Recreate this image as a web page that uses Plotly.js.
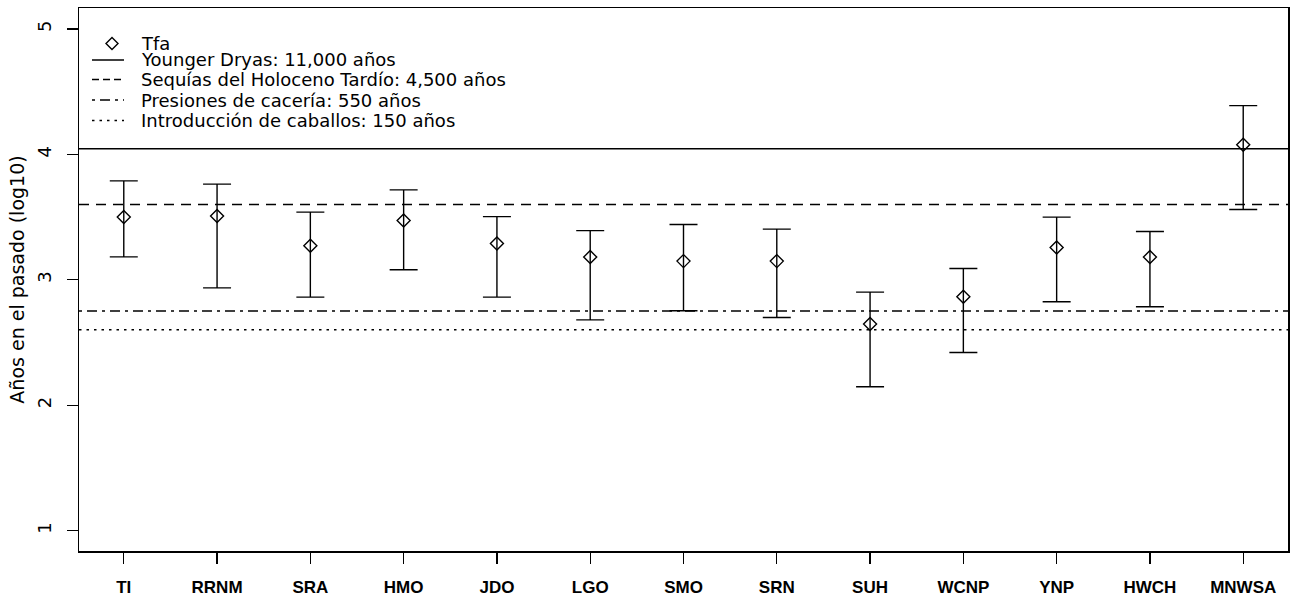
<!DOCTYPE html>
<html>
<head>
<meta charset="utf-8">
<script src="https://cdn.plot.ly/plotly-3.0.1.min.js"></script>
<style>html,body{margin:0;padding:0;background:#fff;}#chart{width:1291px;height:596px;}</style>
</head>
<body>
<div id="chart"></div>
<script>
// Sites (x categories)
const sites = ["TI","RRNM","SRA","HMO","JDO","LGO","SMO","SRN","SUH","WCNP","YNP","HWCH","MNWSA"];
// Tfa estimates (log10 years before present)
const tfa =   [3.500, 3.508, 3.271, 3.473, 3.289, 3.181, 3.149, 3.149, 2.647, 2.865, 3.257, 3.181, 4.076];
// Upper and lower bounds of the intervals
const upper = [3.789, 3.763, 3.540, 3.717, 3.504, 3.392, 3.441, 3.404, 2.902, 3.090, 3.500, 3.385, 4.389];
const lower = [3.183, 2.936, 2.862, 3.080, 2.862, 2.681, 2.753, 2.700, 2.147, 2.421, 2.825, 2.785, 3.560];
// Reference events (horizontal lines)
const eventNames = ["Younger Dryas: 11,000 años", "Sequías del Holoceno Tardío: 4,500 años", "Presiones de cacería: 550 años", "Introducción de caballos: 150 años"];
const eventValues = [4.044, 3.600, 2.751, 2.602];
const eventDash = ["solid", "10px,7px", "3px,5px,10px,5px", "2.5px,5px"];
// Y tick values
const yTicks = [1, 2, 3, 4, 5];
const seriesName = "Tfa";

// ---- geometry (layout only) ----
const W = 1291, H = 596;
const M = {l: 79, r: 3, t: 8, b: 45};
const PW = W - M.l - M.r, PH = H - M.t - M.b;
const px2x = p => (p - M.l) / PW;
const py2y = p => (H - M.b - p) / PH;

const xIdx = sites.map((s, i) => i + 1);
const xRange = [0.52, 13.48];

const traces = [];
traces.push({
  type: "scatter",
  mode: "markers",
  name: seriesName,
  x: xIdx,
  y: tfa,
  marker: {symbol: "diamond-open", size: 10, color: "#000", line: {width: 1.4, color: "#000"}},
  error_y: {
    type: "data",
    symmetric: false,
    array: upper.map((u, i) => u - tfa[i]),
    arrayminus: lower.map((l, i) => tfa[i] - l),
    color: "#000",
    thickness: 1.4,
    width: 14
  },
  showlegend: false
});
eventValues.forEach((v, i) => {
  traces.push({
    type: "scatter",
    mode: "lines",
    name: eventNames[i],
    x: xRange,
    y: [v, v],
    line: {color: "#000", width: 1.5, dash: eventDash[i]},
    hoverinfo: "skip",
    showlegend: false
  });
});

// ---- manual legend (R-style, no box) ----
const legRows = [43.5, 60, 79.5, 100, 120.5];   // pixel rows
const legTextX = 139, legLineX0 = 92, legLineX1 = 124, legSymX = 112;
const annotations = [];
const shapes = [];
const legLabels = [seriesName].concat(eventNames);
legLabels.forEach((t, i) => {
  annotations.push({
    xref: "paper", yref: "paper",
    x: px2x(legTextX), y: py2y(legRows[i]),
    xanchor: "left", yanchor: "middle",
    text: t, showarrow: false,
    font: {family: "DejaVu Sans", size: 18, color: "#000"}
  });
});
// diamond symbol for the series
shapes.push({
  type: "path", xref: "paper", yref: "paper",
  xsizemode: "pixel", ysizemode: "pixel",
  xanchor: px2x(legSymX), yanchor: py2y(legRows[0]),
  path: "M -6 0 L 0 6 L 6 0 L 0 -6 Z",
  line: {color: "#000", width: 1.4}, fillcolor: "rgba(0,0,0,0)"
});
eventDash.forEach((d, i) => {
  shapes.push({
    type: "line", xref: "paper", yref: "paper",
    x0: px2x(legLineX0), x1: px2x(legLineX1),
    y0: py2y(legRows[i + 1]), y1: py2y(legRows[i + 1]),
    line: {color: "#000", width: 1.5, dash: d === "10px,7px" ? "7px,4px" : d}
  });
});

const layout = {
  width: W,
  height: H,
  margin: M,
  paper_bgcolor: "#fff",
  plot_bgcolor: "#fff",
  font: {family: "DejaVu Sans", size: 18, color: "#000"},
  showlegend: false,
  annotations: annotations,
  shapes: shapes,
  xaxis: {
    range: xRange,
    tickmode: "array",
    tickvals: xIdx,
    ticktext: sites,
    ticks: "outside",
    ticklen: 11,
    tickwidth: 1.3,
    tickcolor: "#000",
    showline: true,
    mirror: true,
    linecolor: "#000",
    linewidth: 1.5,
    showgrid: false,
    zeroline: false,
    tickfont: {family: "Liberation Sans", size: 17, color: "#000", weight: "bold"},
    ticklabelstandoff: 9
  },
  yaxis: {
    range: [0.838, 5.167],
    tickmode: "array",
    tickvals: yTicks,
    ticktext: yTicks.map(String),
    tickangle: -90,
    ticks: "outside",
    ticklen: 11,
    tickwidth: 1.3,
    tickcolor: "#000",
    showline: true,
    mirror: true,
    linecolor: "#000",
    linewidth: 1.5,
    showgrid: false,
    zeroline: false,
    tickfont: {family: "DejaVu Sans", size: 18, color: "#000"},
    ticklabelstandoff: 8,
    title: {text: "Años en el pasado (log10)", font: {family: "DejaVu Sans", size: 19, color: "#000"}, standoff: 4}
  }
};

Plotly.newPlot("chart", traces, layout, {staticPlot: true, displayModeBar: false});
</script>
</body>
</html>
